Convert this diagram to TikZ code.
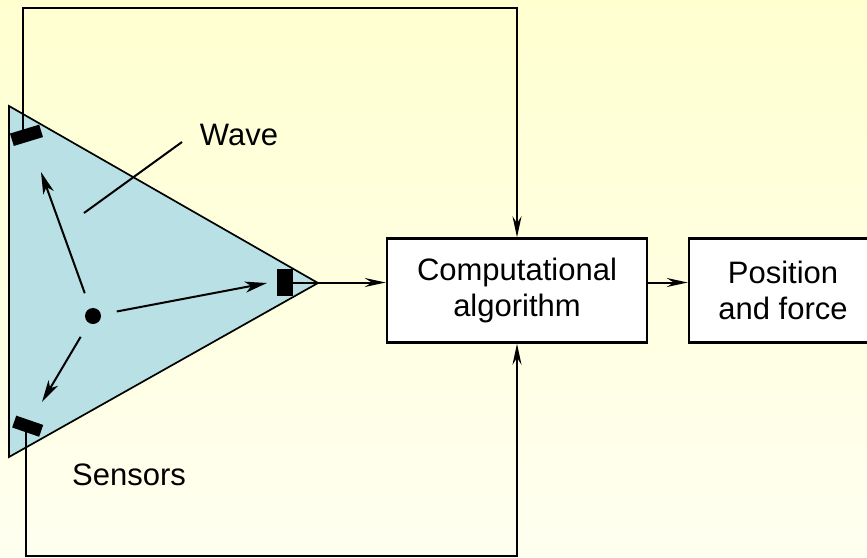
\documentclass[tikz,border=0pt]{standalone}
\usepackage{fontspec}
\setmainfont{Liberation Sans}
\usetikzlibrary{arrows.meta}
\definecolor{bgtop}{RGB}{255,255,208}
\definecolor{bgbot}{RGB}{255,255,240}
\definecolor{tri}{RGB}{185,224,228}
\begin{document}
\begin{tikzpicture}[x=1pt,y=-1pt,
  lbl/.style={font=\fontsize{31}{36}\selectfont, inner sep=0pt},
  box/.style={draw=black, fill=white, line width=2.5pt, align=center, inner sep=0pt,
              font=\fontsize{31}{36}\selectfont},
  sensor/.style={fill=black, draw=none, inner sep=0pt},
  conn/.style={line width=2pt},
  arr/.style={conn, -{Stealth[length=21pt,width=9pt,inset=7pt]}},
  warr/.style={conn, -{Stealth[length=22pt,width=11pt,inset=6pt]}}]
\useasboundingbox (0,0) rectangle (867,557);
\clip (0,0) rectangle (867,557);
\fill[top color=bgtop, bottom color=bgbot] (0,0) rectangle (867,557);

% triangle
\filldraw[fill=tri, draw=black, line width=1.7pt, line join=miter] (9,106) -- (318,283) -- (9,457) -- cycle;

% boxes
\node[box, minimum width=260pt, minimum height=104pt] (comp) at (517,290.5) {Computational\\algorithm};
\node[box, minimum width=188pt, minimum height=104pt] (pos) at (783,290.5) {Position\\and force};

% coordinates
\coordinate (tl) at (22.7,7.5);
\coordinate (bl) at (26,556);
\coordinate (u) at (41,172);
\coordinate (r) at (267,283);
\coordinate (d) at (42,402);
\coordinate (w1) at (84,213);
\coordinate (w2) at (182,142);

% dot
\node[circle, fill=black, minimum size=16pt, inner sep=0pt] (dot) at (93,316) {};

% sensors
\node[sensor, minimum width=30.5pt, minimum height=13pt, rotate=17] (ts) at (26.5,135.3) {};
\node[sensor, minimum width=28.5pt, minimum height=12.5pt, rotate=-19] (bs) at (27.7,426.2) {};
\node[sensor, minimum width=16pt, minimum height=27pt] (rs) at (285,282.5) {};

% wave arrows
\draw[warr, shorten <=16pt] (dot) -- (u);
\draw[warr, shorten <=16pt] (dot) -- (r);
\draw[warr, shorten <=16pt] (dot) -- (d);

% wave pointer
\draw[conn] (w1) -- (w2);

% feedback connectors
\draw[arr, line join=miter] (ts.center -| tl) -- (tl) -| (comp.north);
\draw[arr, line join=miter] (bs.center -| bl) -- (bl) -| (comp.south);
\draw[arr] (rs.center) -- (rs.center -| comp.west);
\draw[arr] (comp.east |- rs.center) -- (pos.west |- rs.center);

% labels
\node[lbl, anchor=base] (wave) at (239,145) {Wave};
\node[lbl, anchor=base] (sens) at (129,485) {Sensors};
\end{tikzpicture}
\end{document}
